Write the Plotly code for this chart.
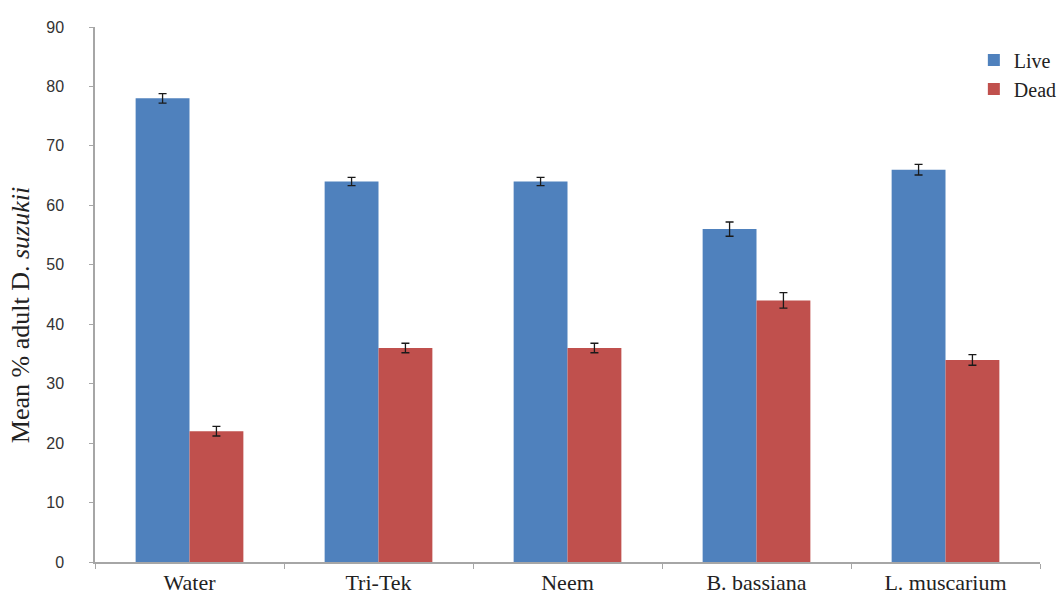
import plotly.graph_objects as go

treatments = ["Water", "Tri-Tek", "Neem", "B. bassiana", "L. muscarium"]
live = [78, 64, 64, 56, 66]
dead = [22, 36, 36, 44, 34]
live_err = [0.8, 0.7, 0.7, 1.2, 0.9]
dead_err = [0.8, 0.8, 0.8, 1.3, 0.9]

serif = "Liberation Serif"
sans = "Liberation Sans"

fig = go.Figure()
fig.add_trace(go.Bar(
    x=treatments, y=live, name="Live", legendgroup="live",
    marker=dict(color="#4f81bd", line=dict(width=0)),
    error_y=dict(type="data", array=live_err, color="#1a1a1a", thickness=1.3, width=4),
))
fig.add_trace(go.Bar(
    x=treatments, y=dead, name="Dead", legendgroup="dead",
    marker=dict(color="#c0504d", line=dict(width=0)),
    error_y=dict(type="data", array=dead_err, color="#1a1a1a", thickness=1.3, width=4),
))

fig.update_layout(
    width=1064, height=604,
    margin=dict(l=95, r=24, t=27, b=42, autoexpand=False),
    barmode="group", bargap=0.43, bargroupgap=0,
    plot_bgcolor="white", paper_bgcolor="white",
    font=dict(family=serif, size=16, color="#222"),
    legend=dict(x=0.93, y=0.975, xanchor="left", yanchor="top",
                bgcolor="rgba(0,0,0,0)", tracegroupgap=0,
                font=dict(size=20, family=serif), itemwidth=30),
    xaxis=dict(showline=True, linecolor="#a6a6a6", linewidth=1.5,
               ticks="outside", tickson="boundaries", ticklen=5,
               tickcolor="#a6a6a6", showgrid=False,
               tickfont=dict(size=22, family=serif)),
    yaxis=dict(range=[0, 90], dtick=10, showline=True, linecolor="#a6a6a6",
               linewidth=1.5, ticks="outside", ticklen=4, tickcolor="#a6a6a6",
               ticklabelstandoff=22,
               showgrid=False, zeroline=False,
               tickfont=dict(size=16, family=sans, color="#333")),
)

# Rotated y-axis title placed beside the tick labels
fig.add_annotation(
    text="Mean % adult D. <i>suzukii</i>",
    xref="paper", yref="paper", x=-0.079, y=0.462,
    xanchor="center", yanchor="middle", textangle=-90, showarrow=False,
    font=dict(size=26, family=serif, color="#222"),
)

fig.write_html("out.html")
